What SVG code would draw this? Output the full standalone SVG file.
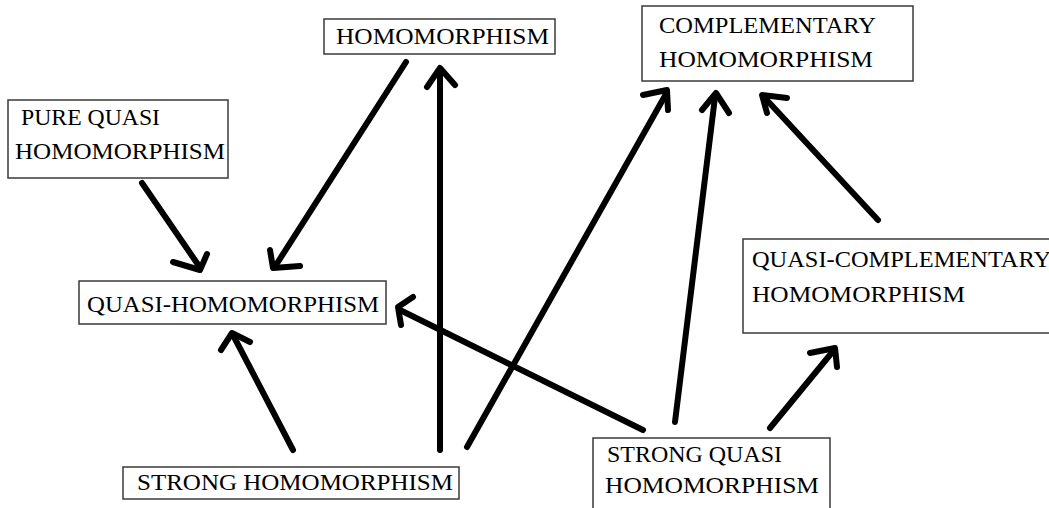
<svg xmlns="http://www.w3.org/2000/svg" width="1049" height="508" viewBox="0 0 1049 508">
<style>
.box{fill:#fff;stroke:#3a3a3a;stroke-width:1.5}
.t{font-family:"Liberation Serif","Times New Roman",serif;font-size:24px;fill:#000}
.ln{fill:none;stroke:#000;stroke-width:6;stroke-linecap:round;stroke-linejoin:round}
</style>
<rect width="1049" height="508" fill="#fff"/>
<g id="homomorphism">
<rect class="box" x="324" y="19" width="231" height="35"/>
<text class="t" x="336" y="44" textLength="213" lengthAdjust="spacingAndGlyphs">HOMOMORPHISM</text>
</g>
<g id="pure-quasi-homomorphism">
<rect class="box" x="8" y="100" width="220" height="78"/>
<text class="t" x="21" y="125" textLength="139" lengthAdjust="spacingAndGlyphs">PURE QUASI</text>
<text class="t" x="15" y="159" textLength="210" lengthAdjust="spacingAndGlyphs">HOMOMORPHISM</text>
</g>
<g id="complementary-homomorphism">
<rect class="box" x="642" y="6" width="271" height="75"/>
<text class="t" x="659" y="33" textLength="217" lengthAdjust="spacingAndGlyphs">COMPLEMENTARY</text>
<text class="t" x="659" y="67" textLength="214" lengthAdjust="spacingAndGlyphs">HOMOMORPHISM</text>
</g>
<g id="quasi-homomorphism">
<rect class="box" x="79" y="281" width="307" height="43"/>
<text class="t" x="87" y="312" textLength="292" lengthAdjust="spacingAndGlyphs">QUASI-HOMOMORPHISM</text>
</g>
<g id="quasi-complementary-homomorphism">
<rect class="box" x="743" y="239" width="315" height="94"/>
<text class="t" x="752" y="267" textLength="299" lengthAdjust="spacingAndGlyphs">QUASI-COMPLEMENTARY</text>
<text class="t" x="752" y="302" textLength="213" lengthAdjust="spacingAndGlyphs">HOMOMORPHISM</text>
</g>
<g id="strong-homomorphism">
<rect class="box" x="123" y="467" width="336" height="32"/>
<text class="t" x="137" y="490" textLength="316" lengthAdjust="spacingAndGlyphs">STRONG HOMOMORPHISM</text>
</g>
<g id="strong-quasi-homomorphism">
<rect class="box" x="593" y="438" width="237" height="80"/>
<text class="t" x="607" y="462" textLength="175" lengthAdjust="spacingAndGlyphs">STRONG QUASI</text>
<text class="t" x="605" y="493" textLength="214" lengthAdjust="spacingAndGlyphs">HOMOMORPHISM</text>
</g>
<g id="connectors">
<g id="homo-to-qh"><line class="ln" x1="406" y1="62" x2="276" y2="265"/><polyline class="ln" points="270,250 273,268 300,266"/></g>
<g id="pqh-to-qh"><line class="ln" x1="142" y1="183" x2="199" y2="266"/><polyline class="ln" points="173,262 200,270 207,254"/></g>
<g id="sh-to-homo"><line class="ln" x1="440" y1="450" x2="440" y2="70"/><polyline class="ln" points="427,87 440,68 455,85"/></g>
<g id="sh-to-qh"><line class="ln" x1="293" y1="450" x2="233" y2="335"/><polyline class="ln" points="221,350 232,333 250,342"/></g>
<g id="sh-to-comp"><line class="ln" x1="467" y1="447" x2="666" y2="94"/><polyline class="ln" points="643,95 667,90 668,110"/></g>
<g id="sqh-to-qh"><line class="ln" x1="643" y1="430" x2="400" y2="310"/><polyline class="ln" points="413,297 398,307 401,325"/></g>
<g id="sqh-to-comp"><line class="ln" x1="675" y1="422" x2="715" y2="97"/><polyline class="ln" points="702,110 716,93 729,113"/></g>
<g id="qch-to-comp"><line class="ln" x1="878" y1="220" x2="764" y2="97"/><polyline class="ln" points="787,98 762,95 767,113"/></g>
<g id="sqh-to-qch"><line class="ln" x1="770" y1="428" x2="834" y2="350"/><polyline class="ln" points="810,353 835,348 837,367"/></g>
</g>
</svg>
